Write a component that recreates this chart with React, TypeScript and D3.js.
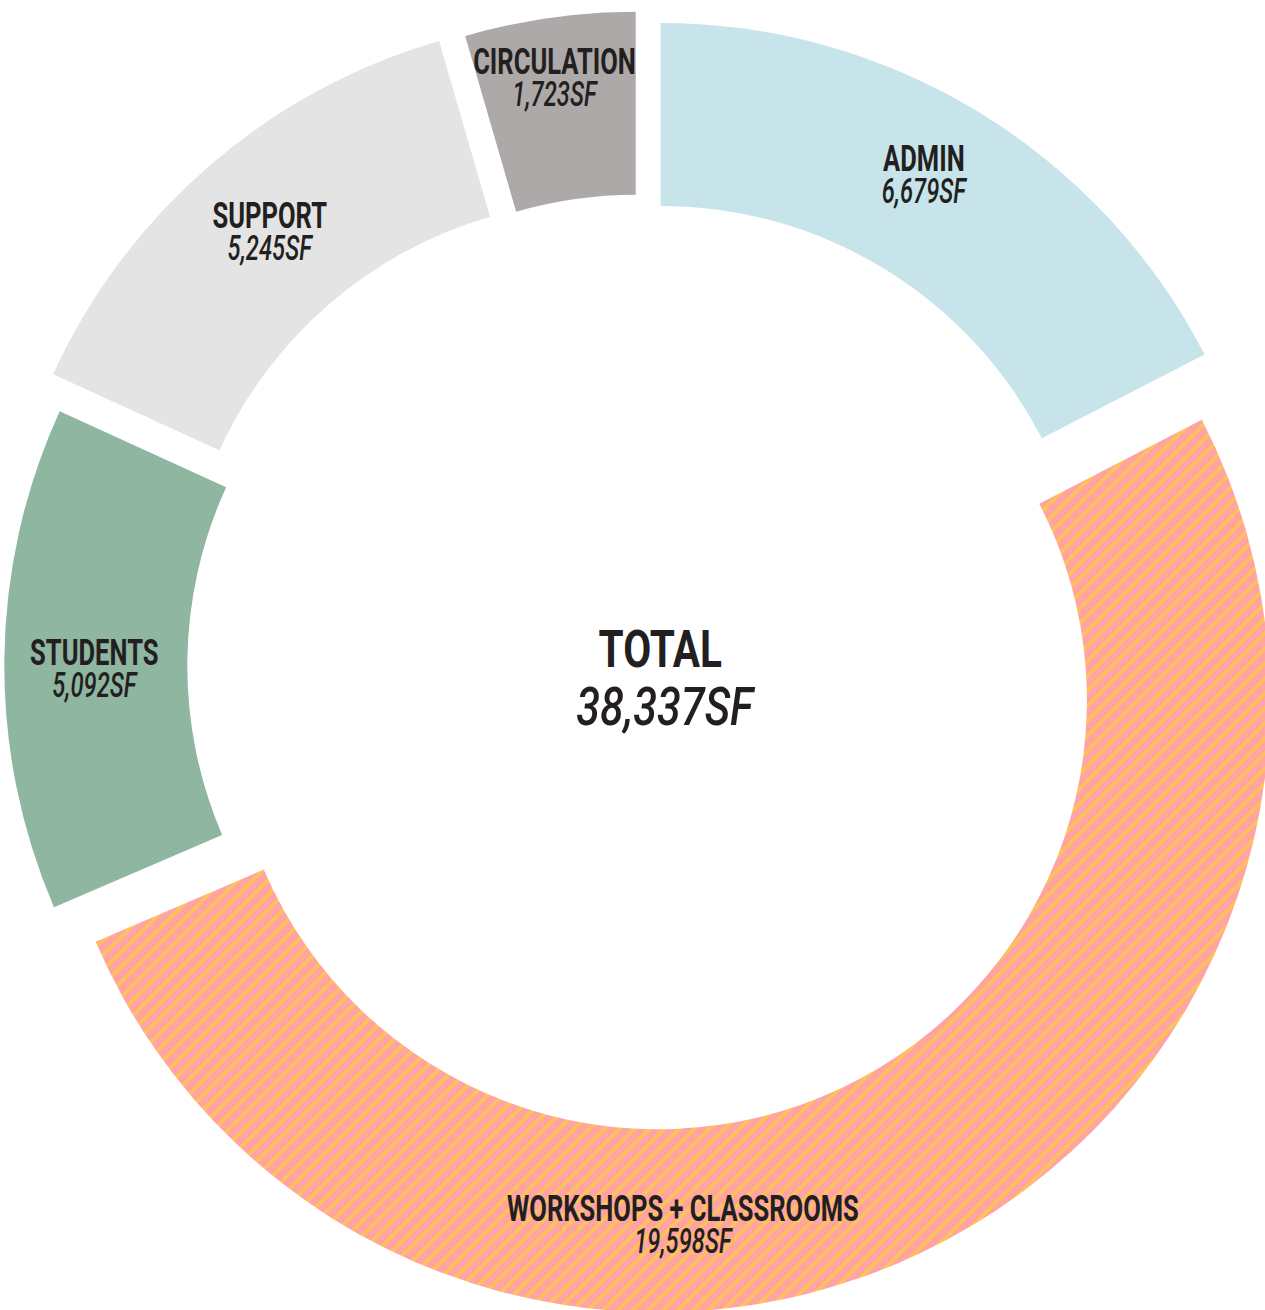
import React from "react";
import * as d3 from "d3";

// ---- data ----
const CATEGORIES: string[] = ["ADMIN", "WORKSHOPS + CLASSROOMS", "STUDENTS", "SUPPORT", "CIRCULATION"];
const AREAS: number[] = [6679, 19598, 5092, 5245, 1723];
const TOTAL_LABEL = "TOTAL";
const UNIT = "SF";

// ---- styles / layout ----
const COLORS: string[] = ["#C6E4E9", "url(#stripes)", "#8FB6A0", "#E4E4E4", "#ADA9A8"];
const STRIPE_A = "#FFA3A3";
const STRIPE_B = "#FFC15C";
const TEXT = "#231F20";
// per-wedge explode distance (px) – layout setting
const EXPLODE: number[] = [36.3, 38, 25.4, 49.1, 42.5];
// per-wedge label placement [angle in degrees, radius] measured from the wedge apex
const LABEL_AT: [number, number][] = [
  [29.6, 533],
  [177.25, 521],
  [270.1, 522],
  [319.7, 525.5],
  [351.6, 556],
];

const W = 1265;
const H = 1310;
const CX = 641.7;
const CY = 665.9;
const R_OUT = 612;
const R_IN = 429;

const fmt = d3.format(",");

export default function App() {
  const pie = d3
    .pie<number>()
    .sort(null)
    .value((d) => d)
    .startAngle(0)
    .endAngle(2 * Math.PI);
  const arcs = pie(AREAS);
  const arcGen = d3.arc<d3.PieArcDatum<number>>().innerRadius(R_IN).outerRadius(R_OUT);
  const total = d3.sum(AREAS);
  const P = 15;
  const SW = 3.9;

  return (
    <svg
      width={W}
      height={H}
      viewBox={`0 0 ${W} ${H}`}
      style={{ position: "absolute", left: 0, top: 0, background: "#fff" }}
    >
      <defs>
        <pattern id="stripes" patternUnits="userSpaceOnUse" width={P} height={P}>
          <rect width={P} height={P} fill={STRIPE_A} />
          <path
            d={`M${-P / 2},${P / 2} L${P / 2},${-P / 2} M0,${P} L${P},0 M${P / 2},${P * 1.5} L${P * 1.5},${P / 2}`}
            stroke={STRIPE_B}
            strokeWidth={SW}
            fill="none"
          />
        </pattern>
      </defs>
      {arcs.map((a, i) => {
        const mid = (a.startAngle + a.endAngle) / 2;
        const ox = CX + EXPLODE[i] * Math.sin(mid);
        const oy = CY - EXPLODE[i] * Math.cos(mid);
        const [deg, rad] = LABEL_AT[i];
        const t = (deg * Math.PI) / 180;
        const lx = rad * Math.sin(t);
        const ly = -rad * Math.cos(t);
        return (
          <g key={CATEGORIES[i]} transform={`translate(${ox},${oy})`}>
            <path d={arcGen(a) || ""} fill={COLORS[i]} />
            <text
              transform={`translate(${lx},${ly}) scale(0.7,1)`}
              textAnchor="middle"
              fontFamily="Roboto, sans-serif"
              fontWeight={700}
              fontSize={36.5}
              fill={TEXT}
            >
              {CATEGORIES[i]}
            </text>
            <text
              transform={`translate(${lx},${ly + 32}) scale(0.68,1)`}
              textAnchor="middle"
              fontFamily="Roboto, sans-serif"
              fontStyle="italic"
              fontWeight={500}
              fontSize={35}
              fill={TEXT}
            >
              {fmt(a.data) + UNIT}
            </text>
          </g>
        );
      })}
      <text
        transform={`translate(${CX + 18.6},${CY + 1.4}) scale(0.78,1)`}
        textAnchor="middle"
        fontFamily="Roboto, sans-serif"
        fontWeight={700}
        fontSize={52}
        fill={TEXT}
      >
        {TOTAL_LABEL}
      </text>
      <text
        transform={`translate(${CX + 23},${CY + 59}) scale(0.8,1)`}
        textAnchor="middle"
        fontFamily="Roboto, sans-serif"
        fontStyle="italic"
        fontWeight={500}
        fontSize={54}
        fill={TEXT}
      >
        {fmt(total) + UNIT}
      </text>
    </svg>
  );
}
